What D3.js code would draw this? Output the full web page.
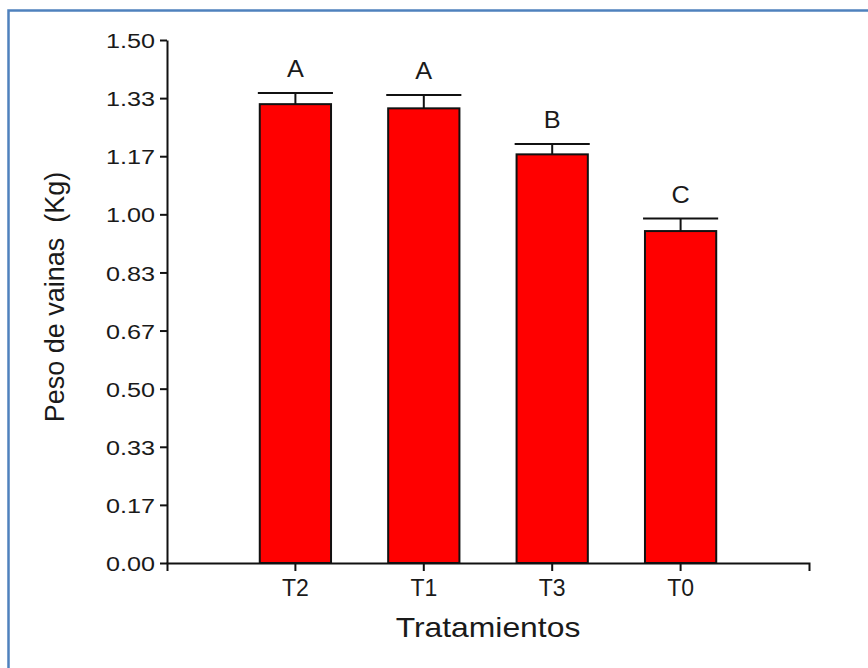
<!DOCTYPE html>
<html>
<head>
<meta charset="utf-8">
<script src="https://cdn.jsdelivr.net/npm/d3@7"></script>
<style>
  body { margin: 0; background: #fff; }
  text { font-family: "Liberation Sans", Arial, sans-serif; fill: #1a1a1a; }
</style>
</head>
<body>
<svg id="chart"></svg>
<script>
const SIZE = {
  width: 868,
  height: 668,
}
const MARGIN = {
  left: 167,
  right: 59,
  top: 40,
  bottom: 105,
}

const categories = ["T2", "T1", "T3", "T0"];
const means = [1.316, 1.304, 1.172, 0.952];
const errors = [0.032, 0.038, 0.030, 0.036];
const letters = ["A", "A", "B", "C"];
const yTicks = [0, 0.1667, 0.3333, 0.5, 0.6667, 0.8333, 1.0, 1.1667, 1.3333, 1.5];

const body = d3.select("svg#chart")
  .attr("width", SIZE.width)
  .attr("height", SIZE.height);

// blue frame, right and bottom edges run off the picture
body.append("rect")
  .attr("x", 8.5)
  .attr("y", 10.5)
  .attr("width", 900)
  .attr("height", 700)
  .attr("fill", "none")
  .attr("stroke", "#4f81bd")
  .attr("stroke-width", 2.5);

const yScale = d3.scaleLinear()
  .domain([0, 1.5])
  .range([SIZE.height - MARGIN.bottom, MARGIN.top]);
const xScale = d3.scaleBand()
  .domain(categories)
  .range([MARGIN.left, SIZE.width - MARGIN.right])
  .paddingInner(0)
  .paddingOuter(0.5);
const barWidth = xScale.step() * 0.555;
const capWidth = xScale.step() * 0.585;
const cx = d => xScale(d) + xScale.bandwidth() / 2;

const yAxis = d3.axisLeft(yScale)
  .tickValues(yTicks)
  .tickFormat(d3.format(".2f"))
  .tickSize(7)
  .tickSizeOuter(0)
  .tickPadding(5);
const yG = body.append("g")
  .attr("transform", `translate(${MARGIN.left}, 0)`)
  .call(yAxis);
yG.select(".domain").attr("stroke", "#111").attr("stroke-width", 2);
yG.selectAll(".tick line").attr("stroke", "#111").attr("stroke-width", 2);
yG.selectAll(".tick text")
  .attr("font-size", 21)
  .attr("x", null)
  .attr("dy", "0.36em")
  .attr("transform", "translate(-12,0) scale(1.2,1)");

const xAxis = d3.axisBottom(xScale)
  .tickSize(8)
  .tickSizeOuter(8)
  .tickPadding(7);
const xG = body.append("g")
  .attr("transform", `translate(0, ${SIZE.height - MARGIN.bottom})`)
  .call(xAxis);
xG.select(".domain").attr("stroke", "#111").attr("stroke-width", 2);
xG.selectAll(".tick line").attr("stroke", "#111").attr("stroke-width", 2);
xG.selectAll(".tick text")
  .attr("font-size", 23)
  .attr("dy", "0.78em");

const bars = body.append("g").selectAll("g")
  .data(categories).enter().append("g");

bars.append("line")
  .attr("x1", d => cx(d))
  .attr("x2", d => cx(d))
  .attr("y1", (d, i) => yScale(means[i]))
  .attr("y2", (d, i) => yScale(means[i] + errors[i]))
  .attr("stroke", "#111")
  .attr("stroke-width", 2);
bars.append("line")
  .attr("x1", d => cx(d) - capWidth / 2)
  .attr("x2", d => cx(d) + capWidth / 2)
  .attr("y1", (d, i) => yScale(means[i] + errors[i]))
  .attr("y2", (d, i) => yScale(means[i] + errors[i]))
  .attr("stroke", "#111")
  .attr("stroke-width", 2);
bars.append("rect")
  .attr("x", d => cx(d) - barWidth / 2)
  .attr("y", (d, i) => yScale(means[i]))
  .attr("width", barWidth)
  .attr("height", (d, i) => yScale(0) - yScale(means[i]))
  .attr("fill", "#ff0000")
  .attr("stroke", "#111")
  .attr("stroke-width", 2);
bars.append("text")
  .attr("transform", (d, i) => `translate(${cx(d)}, ${yScale(means[i] + errors[i]) - 16}) scale(1.1,1)`)
  .attr("text-anchor", "middle")
  .attr("font-size", 23)
  .text((d, i) => letters[i]);

body.append("text")
  .attr("transform", `translate(64, 297) rotate(-90)`)
  .attr("text-anchor", "middle")
  .attr("font-size", 27)
  .style("white-space", "pre")
  .text("Peso de vainas  (Kg)");

body.append("text")
  .attr("transform", `translate(${(MARGIN.left + SIZE.width - MARGIN.right) / 2}, 637) scale(1.18,1)`)
  .attr("text-anchor", "middle")
  .attr("font-size", 27)
  .text("Tratamientos");
</script>
</body>
</html>
